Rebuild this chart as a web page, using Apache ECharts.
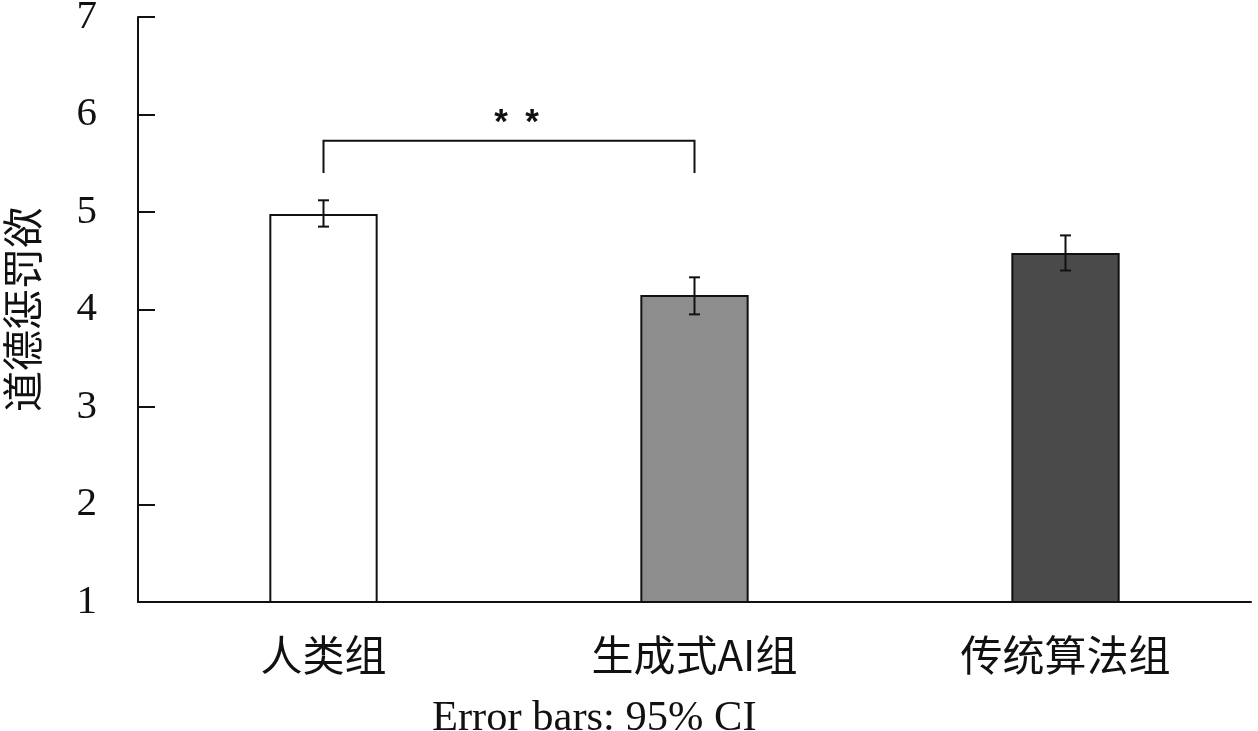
<!DOCTYPE html>
<html>
<head>
<meta charset="utf-8">
<script src="https://cdn.jsdelivr.net/npm/echarts@6/dist/echarts.min.js"></script>
<style>html,body{margin:0;padding:0;background:#fff;}#c{width:1258px;height:731px;}</style>
</head>
<body>
<div id="c"></div>
<script>
var categories = ['人类组', '生成式AI组', '传统算法组'];
var means = [4.98, 4.15, 4.58];
var ciLow = [4.85, 3.95, 4.40];
var ciHigh = [5.12, 4.33, 4.76];
var barColors = ['#ffffff', '#8d8d8d', '#4a4a4a'];
var yTicks = [1, 2, 3, 4, 5, 6, 7];
var bracketFrom = [0];
var bracketTo = [1];
var bracketTop = [5.73];
var bracketBottom = [5.40];
var bracketLabel = ['*\u2002*'];
var yName = '道德惩罚欲';
var footnote = 'Error bars: 95% CI';

var chart = echarts.init(document.getElementById('c'));
var errData = categories.map(function (c, i) { return [i, ciLow[i], ciHigh[i]]; });
var brData = bracketFrom.map(function (f, i) { return [f, bracketTo[i], bracketTop[i], bracketBottom[i]]; });

chart.setOption({
  animation: false,
  backgroundColor: '#ffffff',
  title: {
    text: footnote,
    left: 427,
    top: 692,
    textStyle: { fontFamily: 'Liberation Serif', fontSize: 42.5, fontWeight: 'normal', color: '#111' }
  },
  grid: { left: 138, right: 7, top: 17, bottom: 129, containLabel: false, outerBoundsMode: 'none' },
  xAxis: {
    type: 'category',
    data: categories,
    axisLine: { lineStyle: { color: '#111', width: 2 } },
    axisTick: { show: false },
    axisLabel: { margin: 32, fontFamily: 'Noto Sans CJK SC', fontSize: 42, color: '#111' }
  },
  yAxis: {
    type: 'value',
    min: yTicks[0],
    max: yTicks[yTicks.length - 1],
    interval: 1,
    name: yName,
    nameLocation: 'middle',
    nameGap: 95,
    nameTextStyle: { fontFamily: 'Noto Sans CJK SC', fontSize: 41, color: '#111' },
    axisLine: { show: true, lineStyle: { color: '#111', width: 2 } },
    axisTick: { show: true, inside: true, length: 17, lineStyle: { color: '#111', width: 2 } },
    axisLabel: { margin: 41, fontFamily: 'Liberation Serif', fontSize: 41, color: '#111' },
    splitLine: { show: false }
  },
  series: [
    {
      type: 'bar',
      barWidth: '29.2%',
      data: means.map(function (v, i) {
        return { value: v, itemStyle: { color: barColors[i], borderColor: '#111', borderWidth: 2 } };
      })
    },
    {
      type: 'custom',
      data: errData,
      z: 5,
      renderItem: function (params, api) {
        var lo = api.coord([api.value(0), api.value(1)]);
        var hi = api.coord([api.value(0), api.value(2)]);
        var hw = 5.5;
        var st = { stroke: '#111', lineWidth: 2 };
        return {
          type: 'group',
          children: [
            { type: 'line', shape: { x1: lo[0], y1: lo[1], x2: hi[0], y2: hi[1] }, style: st },
            { type: 'line', shape: { x1: lo[0] - hw, y1: lo[1], x2: lo[0] + hw, y2: lo[1] }, style: st },
            { type: 'line', shape: { x1: hi[0] - hw, y1: hi[1], x2: hi[0] + hw, y2: hi[1] }, style: st }
          ]
        };
      }
    },
    {
      type: 'custom',
      data: brData,
      z: 5,
      renderItem: function (params, api) {
        var a = api.coord([api.value(0), api.value(2)]);
        var b = api.coord([api.value(1), api.value(2)]);
        var a2 = api.coord([api.value(0), api.value(3)]);
        var b2 = api.coord([api.value(1), api.value(3)]);
        return {
          type: 'group',
          children: [
            { type: 'polyline', shape: { points: [[a2[0], a2[1]], [a[0], a[1]], [b[0], b[1]], [b2[0], b2[1]]] },
              style: { stroke: '#111', lineWidth: 2, fill: null } },
            { type: 'text', x: (a[0] + b[0]) / 2 + 7.5, y: a[1] - 17,
              style: { text: bracketLabel[params.dataIndex], fontFamily: 'Liberation Sans', fontWeight: 'bold', fontSize: 35,
                       fill: '#111', align: 'center', verticalAlign: 'middle' } }
          ]
        };
      }
    }
  ]
});
</script>
</body>
</html>
